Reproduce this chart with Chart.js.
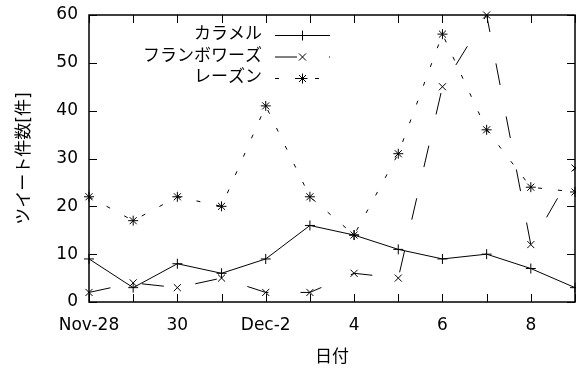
<!DOCTYPE html>
<html>
<head>
<meta charset="utf-8">
<script src="https://cdn.jsdelivr.net/npm/chart.js"></script>
<style>
  html, body { margin: 0; padding: 0; background: #fff; }
</style>
</head>
<body>
<canvas id="myChart" width="576" height="370"></canvas>
<script>
let day_labels = ['Nov-28', 'Nov-29', 'Nov-30', 'Dec-1', 'Dec-2', 'Dec-3', 'Dec-4', 'Dec-5', 'Dec-6', 'Dec-7', 'Dec-8', 'Dec-9'];
let tick_labels = ['Nov-28', '', '30', '', 'Dec-2', '', '4', '', '6', '', '8', ''];
let caramel = [9, 3, 8, 6, 9, 16, 14, 11, 9, 10, 7, 3];
let framboise = [2, 4, 3, 5, 2, 2, 6, 5, 45, 60, 12, 28];
let raisin = [22, 17, 22, 20, 41, 22, 14, 31, 56, 36, 24, 23];
let series_names = ['カラメル', 'フランボワーズ', 'レーズン'];
let y_ticks = [0, 10, 20, 30, 40, 50, 60];

const FONT = "'DejaVu Sans', 'Noto Sans CJK JP', sans-serif";
Chart.defaults.font.family = FONT;
Chart.defaults.font.size = 17;
Chart.defaults.color = '#000';

// gnuplot style frame: box + inward ticks on all four sides, legend inside top
const frame_plugin = {
    id: 'frame',
    afterDraw(chart) {
        let ctx = chart.ctx;
        let a = chart.chartArea;
        let xs = chart.scales.x;
        let ys = chart.scales.y;
        let tl = 8;
        ctx.save();
        ctx.strokeStyle = '#000';
        ctx.lineWidth = 1;
        ctx.beginPath();
        for (let i = 0; i < day_labels.length; i++) {
            let px = Math.round(xs.getPixelForValue(i)) + 0.5;
            ctx.moveTo(px, a.bottom); ctx.lineTo(px, a.bottom - tl);
            ctx.moveTo(px, a.top); ctx.lineTo(px, a.top + tl);
        }
        y_ticks.forEach(v => {
            let py = Math.round(ys.getPixelForValue(v)) + 0.5;
            ctx.moveTo(a.left, py); ctx.lineTo(a.left + tl, py);
            ctx.moveTo(a.right, py); ctx.lineTo(a.right - tl, py);
        });
        ctx.stroke();
        ctx.lineWidth = 1.5;
        ctx.strokeRect(a.left, a.top, a.right - a.left, a.bottom - a.top);

        // legend
        let rows = [35, 56.5, 78];
        ctx.font = '17px ' + FONT;
        ctx.textAlign = 'right';
        ctx.textBaseline = 'middle';
        ctx.fillStyle = '#000';
        chart.data.datasets.forEach((ds, i) => {
            let y = rows[i];
            ctx.fillText(ds.label, 262, y);
            ctx.lineWidth = 1;
            ctx.setLineDash(ds.borderDash || []);
            ctx.lineDashOffset = 0;
            ctx.beginPath();
            ctx.moveTo(275, y + 0.5);
            ctx.lineTo(330, y + 0.5);
            ctx.stroke();
            ctx.setLineDash([]);
            Chart.helpers.drawPoint(ctx, { pointStyle: ds.pointStyle, radius: ds.pointRadius, rotation: 0, borderWidth: 1 }, 302.5, y + 0.5);
        });
        ctx.restore();
    }
};

function make_ds(label, data, style, dash) {
    return {
        label: label,
        data: data,
        borderColor: '#000',
        borderWidth: 1,
        borderDash: dash,
        pointStyle: style,
        pointRadius: 5,
        pointBorderColor: '#000',
        pointBorderWidth: 1,
        pointBackgroundColor: 'rgba(0,0,0,0)',
        tension: 0,
        fill: false,
        clip: false
    };
}

let ctx = document.getElementById('myChart');
let chart = new Chart(ctx, {
    type: 'line',
    data: {
        labels: day_labels,
        datasets: [
            make_ds(series_names[0], caramel, 'cross', []),
            make_ds(series_names[1], framboise, 'crossRot', [22, 32]),
            make_ds(series_names[2], raisin, 'star', [4, 16])
        ]
    },
    options: {
        responsive: false,
        animation: false,
        layout: { autoPadding: false, padding: { top: 15, right: 1, left: 0, bottom: 0 } },
        scales: {
            x: {
                offset: false,
                grid: { display: false, drawTicks: false },
                border: { display: false },
                ticks: {
                    autoSkip: false,
                    maxRotation: 0,
                    padding: 13,
                    callback: function (value, index) { return tick_labels[index]; }
                },
                title: { display: true, text: '日付', padding: { top: 0, bottom: 2 } },
                afterFit: function (scale) {
                    scale.height = 68;
                    scale.paddingLeft = 0;
                    scale.paddingRight = 0;
                }
            },
            y: {
                min: 0,
                max: 60,
                grid: { display: false, drawTicks: false },
                border: { display: false },
                ticks: { stepSize: 10, padding: 11 },
                title: { display: true, text: 'ツイート件数[件]', padding: { top: 14, bottom: 0 } },
                afterFit: function (scale) {
                    scale.width = 89;
                    scale.paddingTop = 0;
                    scale.paddingBottom = 0;
                }
            }
        },
        plugins: {
            legend: { display: false },
            tooltip: { enabled: false }
        }
    },
    plugins: [frame_plugin]
});
</script>
</body>
</html>
